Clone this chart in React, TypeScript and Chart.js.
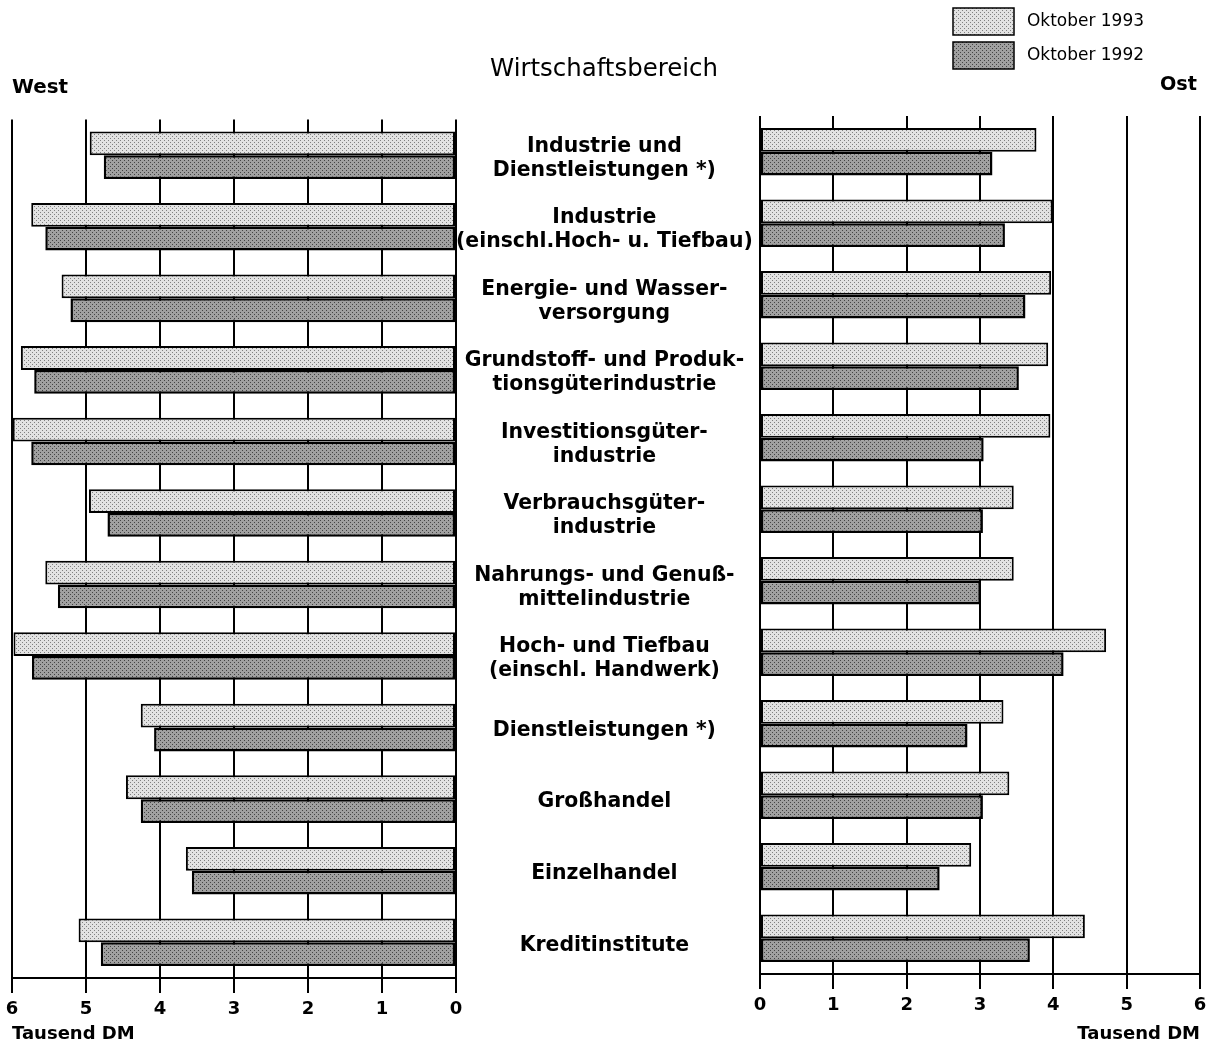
import React, { useEffect, useRef } from 'react';
import { Chart, registerables } from 'chart.js';

Chart.register(...registerables);

// ---------- data ----------
const categories: (string | string[])[] = [
  ['Industrie und', 'Dienstleistungen *)'],
  ['Industrie', '(einschl.Hoch- u. Tiefbau)'],
  ['Energie- und Wasser-', 'versorgung'],
  ['Grundstoff- und Produk-', 'tionsgüterindustrie'],
  ['Investitionsgüter-', 'industrie'],
  ['Verbrauchsgüter-', 'industrie'],
  ['Nahrungs- und Genuß-', 'mittelindustrie'],
  ['Hoch- und Tiefbau', '(einschl. Handwerk)'],
  'Dienstleistungen *)',
  'Großhandel',
  'Einzelhandel',
  'Kreditinstitute',
];

const seriesLabels = ['Oktober 1993', 'Oktober 1992'];

const west1993 = [4.95, 5.74, 5.33, 5.88, 5.99, 4.96, 5.55, 5.98, 4.26, 4.46, 3.65, 5.1];
const west1992 = [4.76, 5.55, 5.21, 5.7, 5.74, 4.71, 5.38, 5.73, 4.08, 4.26, 3.57, 4.8];
const ost1993 = [3.77, 3.99, 3.97, 3.93, 3.96, 3.46, 3.46, 4.72, 3.32, 3.4, 2.88, 4.43];
const ost1992 = [3.17, 3.34, 3.62, 3.53, 3.05, 3.04, 3.01, 4.14, 2.83, 3.04, 2.45, 3.68];

const xTickValues = [0, 1, 2, 3, 4, 5, 6];
const unitLabel = 'Tausend DM';
const centerTitle = 'Wirtschaftsbereich';
const westTitle = 'West';
const ostTitle = 'Ost';

// ---------- layout / style ----------
const PAGE_W = 1214;
const PAGE_H = 1045;
const FAMILY = '"DejaVu Sans", "Liberation Sans", sans-serif';

const WEST_CANVAS = { x: 0, w: 760 };
const WEST_AREA = { left: 12, right: 456, top: 119.5, bottom: 978 };
const OST_CANVAS = { x: 700, w: 514 };
const OST_AREA = { left: 760, right: 1200, top: 116, bottom: 974 };
const LABEL_CENTER_X = 604;

function fitFont(text: string, weight: string, target: number): number {
  const c = document.createElement('canvas').getContext('2d') as CanvasRenderingContext2D;
  c.font = `${weight} 100px ${FAMILY}`;
  return (100 * target) / c.measureText(text).width;
}

function makePattern(base: string, dot: string, dots: number[][]): CanvasPattern {
  const c = document.createElement('canvas');
  c.width = 4;
  c.height = 4;
  const g = c.getContext('2d') as CanvasRenderingContext2D;
  g.fillStyle = base;
  g.fillRect(0, 0, 4, 4);
  g.fillStyle = dot;
  dots.forEach(([x, y]) => g.fillRect(x, y, 1, 1));
  return g.createPattern(c, 'repeat') as CanvasPattern;
}

export default function App() {
  const westRef = useRef<HTMLCanvasElement | null>(null);
  const ostRef = useRef<HTMLCanvasElement | null>(null);

  useEffect(() => {
    document.body.style.margin = '0';
    const lightPat = makePattern('#e2e2e2', '#808080', [[0, 0], [2, 2]]);
    const darkPat = makePattern('#a0a0a0', '#444444', [[0, 0], [2, 2]]);

    const labelSize = fitFont('(einschl.Hoch- u. Tiefbau)', 'bold', 297);
    const titleSize = fitFont(centerTitle, 'normal', 228);
    const sideSize = fitFont(westTitle, 'bold', 56);
    const ostSize = fitFont(ostTitle, 'bold', 37);
    const legendSize = fitFont(seriesLabels[0], 'normal', 117);
    const unitSize = 18;
    const tickFont = { family: FAMILY, size: 18, weight: 'bold' as const };

    // widest category line, to centre labels in middle column
    const m = document.createElement('canvas').getContext('2d') as CanvasRenderingContext2D;
    m.font = `bold ${labelSize}px ${FAMILY}`;
    let widest = 0;
    categories.forEach((c) => {
      (Array.isArray(c) ? c : [c]).forEach((l) => {
        widest = Math.max(widest, m.measureText(l).width);
      });
    });
    const labelPad = Math.max(0, LABEL_CENTER_X - WEST_AREA.right - widest / 2);

    const barBase = {
      borderColor: '#000',
      borderSkipped: false,
      categoryPercentage: 0.665,
      barPercentage: 1.0,
    };

    const setTicks = (s: any) => {
      s.ticks = xTickValues.map((v) => ({ value: v }));
    };

    const westHeader = {
      id: 'westHeader',
      afterDraw(chart: any) {
        const ctx = chart.ctx as CanvasRenderingContext2D;
        ctx.save();
        ctx.fillStyle = '#000';
        ctx.textBaseline = 'middle';
        ctx.textAlign = 'center';
        ctx.font = `normal ${titleSize}px ${FAMILY}`;
        ctx.fillText(centerTitle, LABEL_CENTER_X - WEST_CANVAS.x, 70);
        ctx.textAlign = 'left';
        ctx.font = `bold ${sideSize}px ${FAMILY}`;
        ctx.fillText(westTitle, 12, 88);
        ctx.font = `bold ${unitSize}px ${FAMILY}`;
        ctx.fillText(unitLabel, chart.chartArea.left, 1034);
        ctx.restore();
      },
    };

    const ostHeader = {
      id: 'ostHeader',
      afterDraw(chart: any) {
        const ctx = chart.ctx as CanvasRenderingContext2D;
        ctx.save();
        ctx.textBaseline = 'middle';
        chart.data.datasets.forEach((ds: any, i: number) => {
          const bx = 953 - OST_CANVAS.x;
          const by = 8 + i * 34;
          ctx.fillStyle = ds.backgroundColor;
          ctx.fillRect(bx, by, 61, 27);
          ctx.strokeStyle = '#000';
          ctx.lineWidth = 1.5;
          ctx.strokeRect(bx, by, 61, 27);
          ctx.fillStyle = '#000';
          ctx.textAlign = 'left';
          ctx.font = `normal ${legendSize}px ${FAMILY}`;
          ctx.fillText(ds.label, 1027 - OST_CANVAS.x, by + 14);
        });
        ctx.textAlign = 'right';
        ctx.font = `bold ${ostSize}px ${FAMILY}`;
        ctx.fillText(ostTitle, 1197 - OST_CANVAS.x, 85);
        ctx.restore();
      },
    };

    const xGrid = { color: '#000', lineWidth: 2, tickLength: 15, drawTicks: true, drawOnChartArea: true, tickColor: '#000' };
    const xBorder = { display: true, color: '#000', width: 2 };
    const xTicks = { color: '#000', font: tickFont, padding: 6, maxRotation: 0, autoSkip: false };

    const west = new Chart(westRef.current as HTMLCanvasElement, {
      type: 'bar',
      data: {
        labels: categories as any,
        datasets: [
          { ...barBase, label: seriesLabels[0], data: west1993, backgroundColor: lightPat, borderWidth: 2 } as any,
          { ...barBase, label: seriesLabels[1], data: west1992, backgroundColor: darkPat, borderWidth: 2.5 } as any,
        ],
      },
      options: {
        indexAxis: 'y',
        responsive: false,
        animation: false,
        devicePixelRatio: 1,
        layout: { padding: { left: WEST_AREA.left, top: WEST_AREA.top, right: 0, bottom: 0 } },
        plugins: { legend: { display: false }, tooltip: { enabled: false }, title: { display: false } },
        scales: {
          x: {
            type: 'linear',
            reverse: true,
            min: 0,
            max: 6,
            position: 'bottom',
            afterBuildTicks: setTicks,
            afterFit: (s: any) => {
              s.height = PAGE_H - WEST_AREA.bottom;
            },
            grid: xGrid,
            border: xBorder,
            ticks: xTicks,
          },
          y: {
            type: 'category',
            position: 'right',
            offset: true,
            grid: { display: false, drawTicks: false },
            border: { display: false },
            afterFit: (s: any) => {
              s.width = WEST_CANVAS.w - WEST_AREA.right;
            },
            ticks: {
              color: '#000',
              font: { family: FAMILY, size: labelSize, weight: 'bold', lineHeight: 24 / labelSize },
              crossAlign: 'center',
              padding: labelPad,
              labelOffset: 3,
              autoSkip: false,
            },
          },
        },
      } as any,
      plugins: [westHeader],
    });

    const ost = new Chart(ostRef.current as HTMLCanvasElement, {
      type: 'bar',
      data: {
        labels: categories as any,
        datasets: [
          { ...barBase, label: seriesLabels[0], data: ost1993, backgroundColor: lightPat, borderWidth: 2 } as any,
          { ...barBase, label: seriesLabels[1], data: ost1992, backgroundColor: darkPat, borderWidth: 2.5 } as any,
        ],
      },
      options: {
        indexAxis: 'y',
        responsive: false,
        animation: false,
        devicePixelRatio: 1,
        layout: {
          padding: {
            left: OST_AREA.left - OST_CANVAS.x,
            right: OST_CANVAS.x + OST_CANVAS.w - OST_AREA.right,
            top: OST_AREA.top,
            bottom: 0,
          },
        },
        plugins: { legend: { display: false }, tooltip: { enabled: false }, title: { display: false } },
        scales: {
          x: {
            type: 'linear',
            min: 0,
            max: 6,
            position: 'bottom',
            afterBuildTicks: setTicks,
            afterFit: (s: any) => {
              s.height = PAGE_H - OST_AREA.bottom;
            },
            grid: xGrid,
            border: xBorder,
            ticks: xTicks,
            title: {
              display: true,
              text: unitLabel,
              align: 'end',
              color: '#000',
              font: { family: FAMILY, size: unitSize, weight: 'bold', lineHeight: 1.2 },
              padding: { top: 0, bottom: 0 },
            },
          },
          y: {
            type: 'category',
            display: false,
            offset: true,
          },
        },
      } as any,
      plugins: [ostHeader],
    });

    return () => {
      west.destroy();
      ost.destroy();
    };
  }, []);

  return (
    <div style={{ position: 'absolute', left: 0, top: 0, width: PAGE_W, height: PAGE_H, background: '#fff' }}>
      <canvas
        ref={westRef}
        width={WEST_CANVAS.w}
        height={PAGE_H}
        style={{ position: 'absolute', left: WEST_CANVAS.x, top: 0, width: WEST_CANVAS.w, height: PAGE_H }}
      />
      <canvas
        ref={ostRef}
        width={OST_CANVAS.w}
        height={PAGE_H}
        style={{ position: 'absolute', left: OST_CANVAS.x, top: 0, width: OST_CANVAS.w, height: PAGE_H }}
      />
    </div>
  );
}
